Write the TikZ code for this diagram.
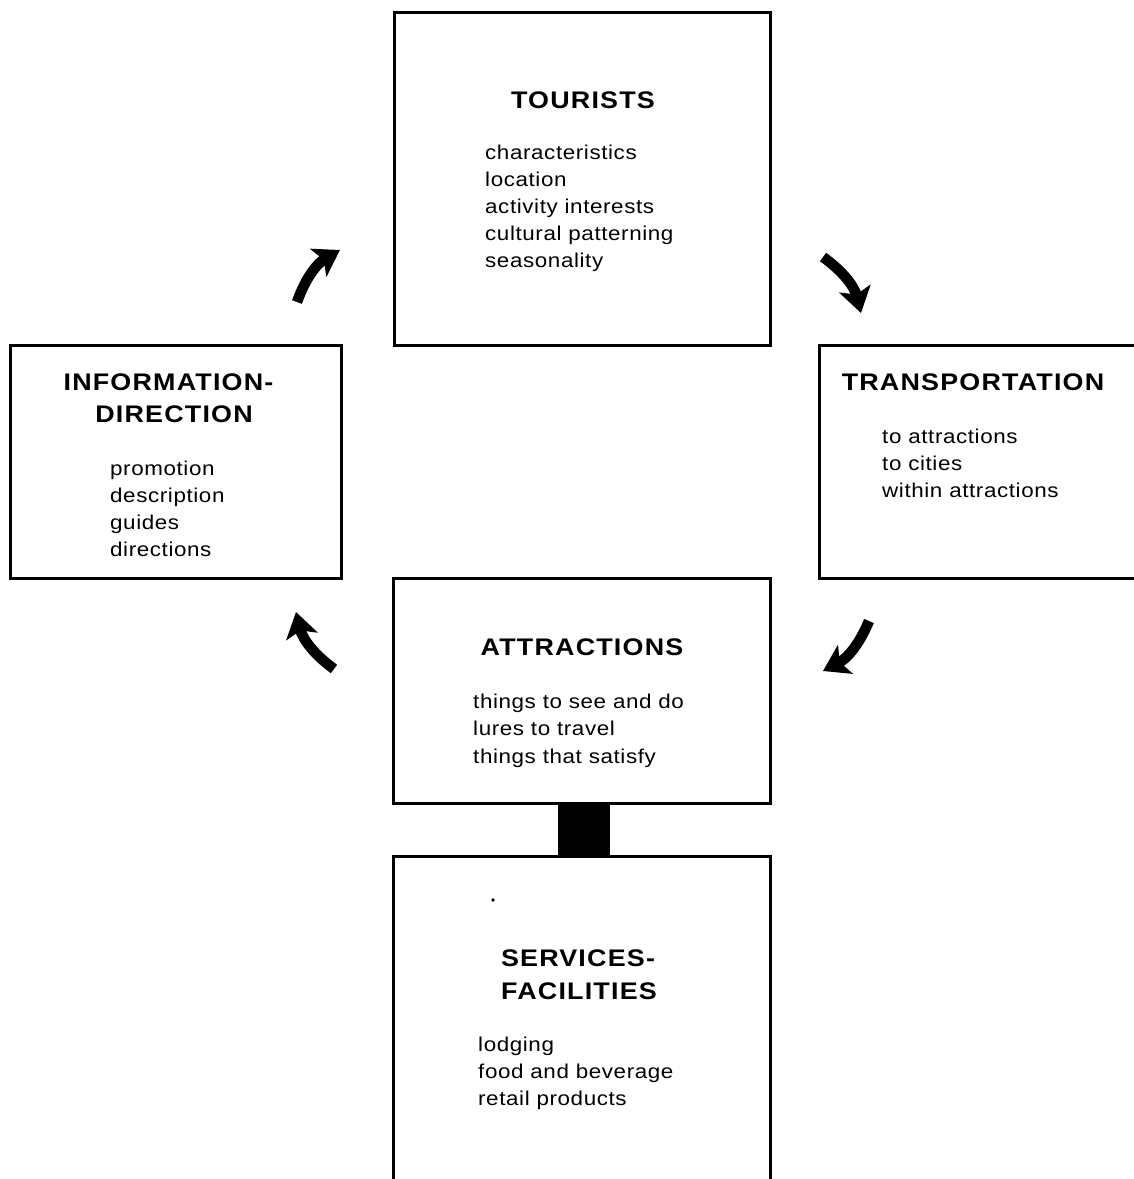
\documentclass[tikz,border=0pt]{standalone}
\usepackage{fontspec}
\setmainfont{Liberation Sans}[FakeStretch=1.12,LetterSpace=3]
\newfontfamily\headfont{Liberation Sans}[FakeStretch=1.12,LetterSpace=5]
\usetikzlibrary{arrows.meta}
\newcommand{\bodytext}{\fontsize{20}{27}\selectfont}
\newcommand{\headtext}{\headfont\bfseries\fontsize{24}{32}\selectfont}
\tikzset{
  box/.style={draw=black, line width=3pt, inner sep=0pt, outer sep=0pt},
  heading/.style={anchor=base, inner sep=0pt, font=\headtext},
  item/.style={anchor=base west, inner sep=0pt, font=\bodytext},
  fatarrow/.style={line width=10.5pt, -{Stealth[length=25pt,width=32pt,inset=6pt]}},
}
\begin{document}
\begin{tikzpicture}[x=1pt,y=-1pt]
\useasboundingbox (0,0) rectangle (1134,1179);
\fill[white] (0,0) rectangle (1134,1179);
\clip (0,0) rectangle (1134,1179);

% boxes
\node[box, minimum width=376, minimum height=333] (tourists) at (582,178.5) {};
\node[box, minimum width=331, minimum height=233] (transport) at (984.5,461.5) {};
\node[box, minimum width=331, minimum height=233] (info) at (175.5,461.5) {};
\node[box, minimum width=377, minimum height=225] (attractions) at (581.5,690.5) {};
\node[box, minimum width=377, minimum height=344] (services) at (581.5,1028) {};

% solid link between attractions and services
\draw[line width=52pt] (attractions.south -| 584,0) -- (services.north -| 584,0);

% tourists
\node[heading] (tourists-title) at (583,108) {TOURISTS};
\foreach \t [count=\i] in {characteristics, location, activity interests, cultural patterning, seasonality}
  \node[item] (tourists-\i) at (485,{159+27*(\i-1)}) {\t};

% transportation
\node[heading] (transport-title) at (973,390) {TRANSPORTATION};
\foreach \t [count=\i] in {to attractions, to cities, within attractions}
  \node[item] (transport-\i) at (882,{443+27*(\i-1)}) {\t};

% information-direction
\node[heading] (info-title1) at (168.5,390) {INFORMATION-};
\node[heading] (info-title2) at (174,422) {DIRECTION};
\foreach \t [count=\i] in {promotion, description, guides, directions}
  \node[item] (info-\i) at (110,{475+27.3*(\i-1)}) {\t};

% attractions
\node[heading] (attractions-title) at (582,655) {ATTRACTIONS};
\foreach \t [count=\i] in {things to see and do, lures to travel, things that satisfy}
  \node[item] (attractions-\i) at (473,{708+27.5*(\i-1)}) {\t};

% services-facilities
\node[heading] (services-title1) at (578,966) {SERVICES-};
\node[heading] (services-title2) at (579,999) {FACILITIES};
\foreach \t [count=\i] in {lodging, food and beverage, retail products}
  \node[item] (services-\i) at (478,{1051+27*(\i-1)}) {\t};
\fill (493,900) circle (1.8pt);

% cycle arrows
\coordinate (a1s) at (297,302); \coordinate (a1e) at (340,250);
\coordinate (a2s) at (823,257); \coordinate (a2e) at (861,313);
\coordinate (a3s) at (869,621); \coordinate (a3e) at (823,671);
\coordinate (a4s) at (334,669); \coordinate (a4e) at (296,612);
\draw[fatarrow] (a1s) to[bend left=20] (a1e);
\draw[fatarrow] (a2s) to[bend left=20] (a2e);
\draw[fatarrow] (a3s) to[bend left=20] (a3e);
\draw[fatarrow] (a4s) to[bend left=20] (a4e);
\end{tikzpicture}
\end{document}
